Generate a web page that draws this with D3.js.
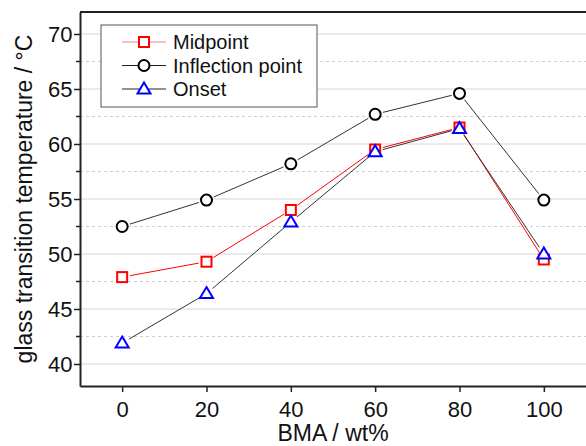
<!DOCTYPE html>
<html>
<head>
<meta charset="utf-8">
<script src="https://cdn.jsdelivr.net/npm/d3@7"></script>
<style>
  body { margin: 0; background: #fff; }
  svg { display: block; font-family: "Liberation Sans", Arial, sans-serif; }
</style>
</head>
<body>
<div id="chart"></div>
<script>
// Data
const bma = [0, 20, 40, 60, 80, 100];
const midpoint = [47.9, 49.3, 54.0, 59.5, 61.5, 49.5];
const inflection = [52.5, 54.9, 58.2, 62.7, 64.6, 54.9];
const onset = [41.9, 46.4, 52.9, 59.3, 61.4, 50.0];
const xTicks = [0, 20, 40, 60, 80, 100];
const yTicks = [40, 45, 50, 55, 60, 65, 70];
const yMinor = [42.5, 47.5, 52.5, 57.5, 62.5, 67.5];

const series = [
    { name: 'Midpoint', values: midpoint, marker: 'square', color: '#ff0000', line: '#ff0000' },
    { name: 'Inflection point', values: inflection, marker: 'circle', color: '#000000', line: '#333333' },
    { name: 'Onset', values: onset, marker: 'triangle', color: '#0000ff', line: '#333333' }
];

const dimensions = { width: 586, height: 446, left: 80, right: 586, top: 12, bottom: 386 };

const x = d3.scaleLinear().domain([-10, 110]).range([dimensions.left, dimensions.right]);
const y = d3.scaleLinear().domain([38, 72]).range([dimensions.bottom, dimensions.top]);

const svg = d3.select('#chart')
    .append('svg')
    .attr('width', dimensions.width)
    .attr('height', dimensions.height);

// Grid
svg.append('g').selectAll('line')
    .data(yTicks)
    .join('line')
    .attr('x1', dimensions.left).attr('x2', dimensions.right)
    .attr('y1', d => y(d)).attr('y2', d => y(d))
    .attr('stroke', '#d6d6d6').attr('stroke-width', 1);

svg.append('g').selectAll('line')
    .data(yMinor)
    .join('line')
    .attr('x1', dimensions.left).attr('x2', dimensions.right)
    .attr('y1', d => y(d)).attr('y2', d => y(d))
    .attr('stroke', '#cfcfcf').attr('stroke-width', 1)
    .attr('stroke-dasharray', '3,3');

// Frame top
svg.append('line')
    .attr('x1', dimensions.left).attr('x2', dimensions.right + 5)
    .attr('y1', dimensions.top).attr('y2', dimensions.top)
    .attr('stroke', '#222').attr('stroke-width', 2);

// Axes
const xAxis = svg.append('g')
    .attr('transform', `translate(0, ${dimensions.bottom})`)
    .call(d3.axisBottom(x).tickValues(xTicks).tickSize(6).tickSizeOuter(0).tickPadding(9));

const yAxis = svg.append('g')
    .attr('transform', `translate(${dimensions.left}, 0)`)
    .call(d3.axisLeft(y).tickValues(yTicks).tickSize(6).tickSizeOuter(0).tickPadding(1.5));

yAxis.selectAll('.minor')
    .data(yMinor)
    .join('line')
    .attr('class', 'minor')
    .attr('x1', 0).attr('x2', -4)
    .attr('y1', d => y(d)).attr('y2', d => y(d))
    .attr('stroke', '#222').attr('stroke-width', 1.5);

[xAxis, yAxis].forEach(a => {
    a.select('.domain').attr('stroke', '#222').attr('stroke-width', 2);
    a.selectAll('.tick line').attr('stroke', '#222').attr('stroke-width', 1.5);
    a.selectAll('.tick text').attr('font-size', 22).attr('fill', '#111')
        .style('font-family', '"Liberation Sans", Arial, sans-serif');
});

// Axis titles
svg.append('text')
    .attr('x', (dimensions.left + dimensions.right) / 2)
    .attr('y', 441)
    .attr('text-anchor', 'middle')
    .attr('font-size', 23)
    .attr('fill', '#111')
    .text('BMA / wt%');

svg.append('text')
    .attr('transform', `translate(32, ${(dimensions.top + dimensions.bottom) / 2}) rotate(-90)`)
    .attr('text-anchor', 'middle')
    .attr('font-size', 23)
    .attr('fill', '#111')
    .text('glass transition temperature / °C');

// Markers
function drawMarker(g, type, color) {
    if (type === 'square') {
        g.append('rect').attr('x', -5).attr('y', -5).attr('width', 10).attr('height', 10)
            .attr('fill', '#fff').attr('stroke', color).attr('stroke-width', 2);
    } else if (type === 'circle') {
        g.append('circle').attr('r', 5.5)
            .attr('fill', '#fff').attr('stroke', color).attr('stroke-width', 2);
    } else {
        g.append('path').attr('d', 'M0,-6.5L6.5,4.5L-6.5,4.5Z')
            .attr('fill', '#fff').attr('stroke', color).attr('stroke-width', 2);
    }
}

const gap = 8;
series.forEach(s => {
    const pts = s.values.map((v, i) => [x(bma[i]), y(v)]);
    const segs = d3.pairs(pts).map(([a, b]) => {
        const dx = b[0] - a[0], dy = b[1] - a[1];
        const len = Math.hypot(dx, dy);
        const ux = dx / len, uy = dy / len;
        return [a[0] + ux * gap, a[1] + uy * gap, b[0] - ux * gap, b[1] - uy * gap];
    });
    svg.append('g').selectAll('line')
        .data(segs)
        .join('line')
        .attr('x1', d => d[0]).attr('y1', d => d[1])
        .attr('x2', d => d[2]).attr('y2', d => d[3])
        .attr('stroke', s.line).attr('stroke-width', 1);
});

series.forEach(s => {
    s.values.forEach((v, i) => {
        const g = svg.append('g').attr('transform', `translate(${x(bma[i])}, ${y(v)})`);
        drawMarker(g, s.marker, s.color);
    });
});

// Legend
const legend = svg.append('g').attr('transform', 'translate(101, 25)');
legend.append('rect')
    .attr('width', 216).attr('height', 82)
    .attr('fill', '#fff').attr('stroke', '#555').attr('stroke-width', 1);

series.forEach((s, i) => {
    const row = legend.append('g').attr('transform', `translate(0, ${17 + i * 23.5})`);
    row.append('line').attr('x1', 21).attr('x2', 65).attr('y1', 0).attr('y2', 0)
        .attr('stroke', i === 0 ? '#ff8080' : '#222').attr('stroke-width', 1);
    const m = row.append('g').attr('transform', 'translate(43, 0)');
    drawMarker(m, s.marker, s.color);
    row.append('text').attr('x', 72).attr('y', 7)
        .attr('font-size', 20).attr('fill', '#111')
        .text(s.name);
});
</script>
</body>
</html>
